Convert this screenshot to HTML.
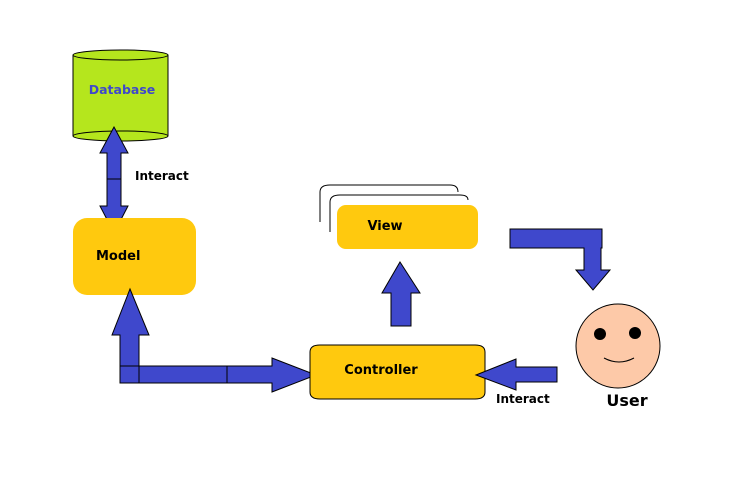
<!DOCTYPE html>
<html><head><style>body{margin:0;background:#fff}svg{display:block}text{font-family:"DejaVu Sans","Liberation Sans",sans-serif;font-weight:bold}</style></head>
<body>
<svg width="750" height="499" viewBox="0 0 750 499" xmlns="http://www.w3.org/2000/svg">
<rect width="750" height="499" fill="#fff"/>
<!-- Database -->
<path d="M73,55 L73,136 A47.5,5 0 0 0 168,136 L168,55" fill="#b5e61d" stroke="#000"/>
<ellipse cx="120.5" cy="55" rx="47.5" ry="5" fill="#b5e61d" stroke="#000"/>
<path d="M73,136 A47.5,5 0 0 1 168,136" fill="none" stroke="#000"/>
<text x="122" y="94" font-size="12.5" fill="#3f48cc" text-anchor="middle">Database</text>
<!-- DB-Model arrow -->
<polygon points="114,127 128,153 121,153 121,206 128,206 114,233 100,206 107,206 107,153 100,153" fill="#3f48cc" stroke="#000"/>
<line x1="107" y1="179" x2="121" y2="179" stroke="#000"/>
<text x="135" y="180" font-size="12" fill="#000">Interact</text>
<!-- Model -->
<rect x="73" y="218" width="123" height="77" rx="14" fill="#ffc90e"/>
<text x="96" y="260" font-size="13" fill="#000">Model</text>
<!-- Model-Controller arrow -->
<polygon points="130,289 149,335 139,335 139,366 272,366 272,358 316,375 272,392 272,383 120,383 120,335 112,335" fill="#3f48cc" stroke="#000"/>
<line x1="120" y1="366" x2="139" y2="366" stroke="#000"/>
<line x1="139" y1="366" x2="139" y2="383" stroke="#000"/>
<line x1="227" y1="366" x2="227" y2="383" stroke="#000"/>
<!-- Controller -->
<path d="M320,345 L475,345 Q485,345 485,352 L485,392 Q485,399 475,399 L320,399 Q310,399 310,392 L310,352 Q310,345 320,345 Z" fill="#ffc90e" stroke="#000"/>
<text x="381" y="374" font-size="13" fill="#000" text-anchor="middle">Controller</text>
<!-- View -->
<path d="M320,222 L320,192 Q320,185 330,185 L450,185 Q458,185 458,192" fill="none" stroke="#000"/>
<path d="M330,232 L330,202 Q330,195 340,195 L460,195 Q468,195 468,200" fill="none" stroke="#000"/>
<rect x="337" y="205" width="141" height="44" rx="9" fill="#ffc90e"/>
<text x="385" y="230" font-size="13" fill="#000" text-anchor="middle">View</text>
<!-- Controller-View arrow -->
<polygon points="400,262 420,293 411,293 411,326 391,326 391,293 382,293" fill="#3f48cc" stroke="#000"/>
<!-- View-User arrow -->
<polygon points="510,229 602,229 602,248 601,248 601,270 610,270 593,290 576,270 584,270 584,248 510,248" fill="#3f48cc" stroke="#000"/>
<!-- User -->
<circle cx="618" cy="346" r="42" fill="#fdc9a8" stroke="#000"/>
<circle cx="600" cy="334" r="6" fill="#000"/>
<circle cx="635" cy="333" r="6" fill="#000"/>
<path d="M604,358 Q619,366 634,358" fill="none" stroke="#000"/>
<text x="627" y="406" font-size="16" fill="#000" text-anchor="middle">User</text>
<!-- User-Controller arrow -->
<polygon points="476,375 516,359 516,367 557,367 557,382 516,382 516,390" fill="#3f48cc" stroke="#000"/>
<text x="496" y="403" font-size="12" fill="#000">Interact</text>
</svg>
</body></html>
